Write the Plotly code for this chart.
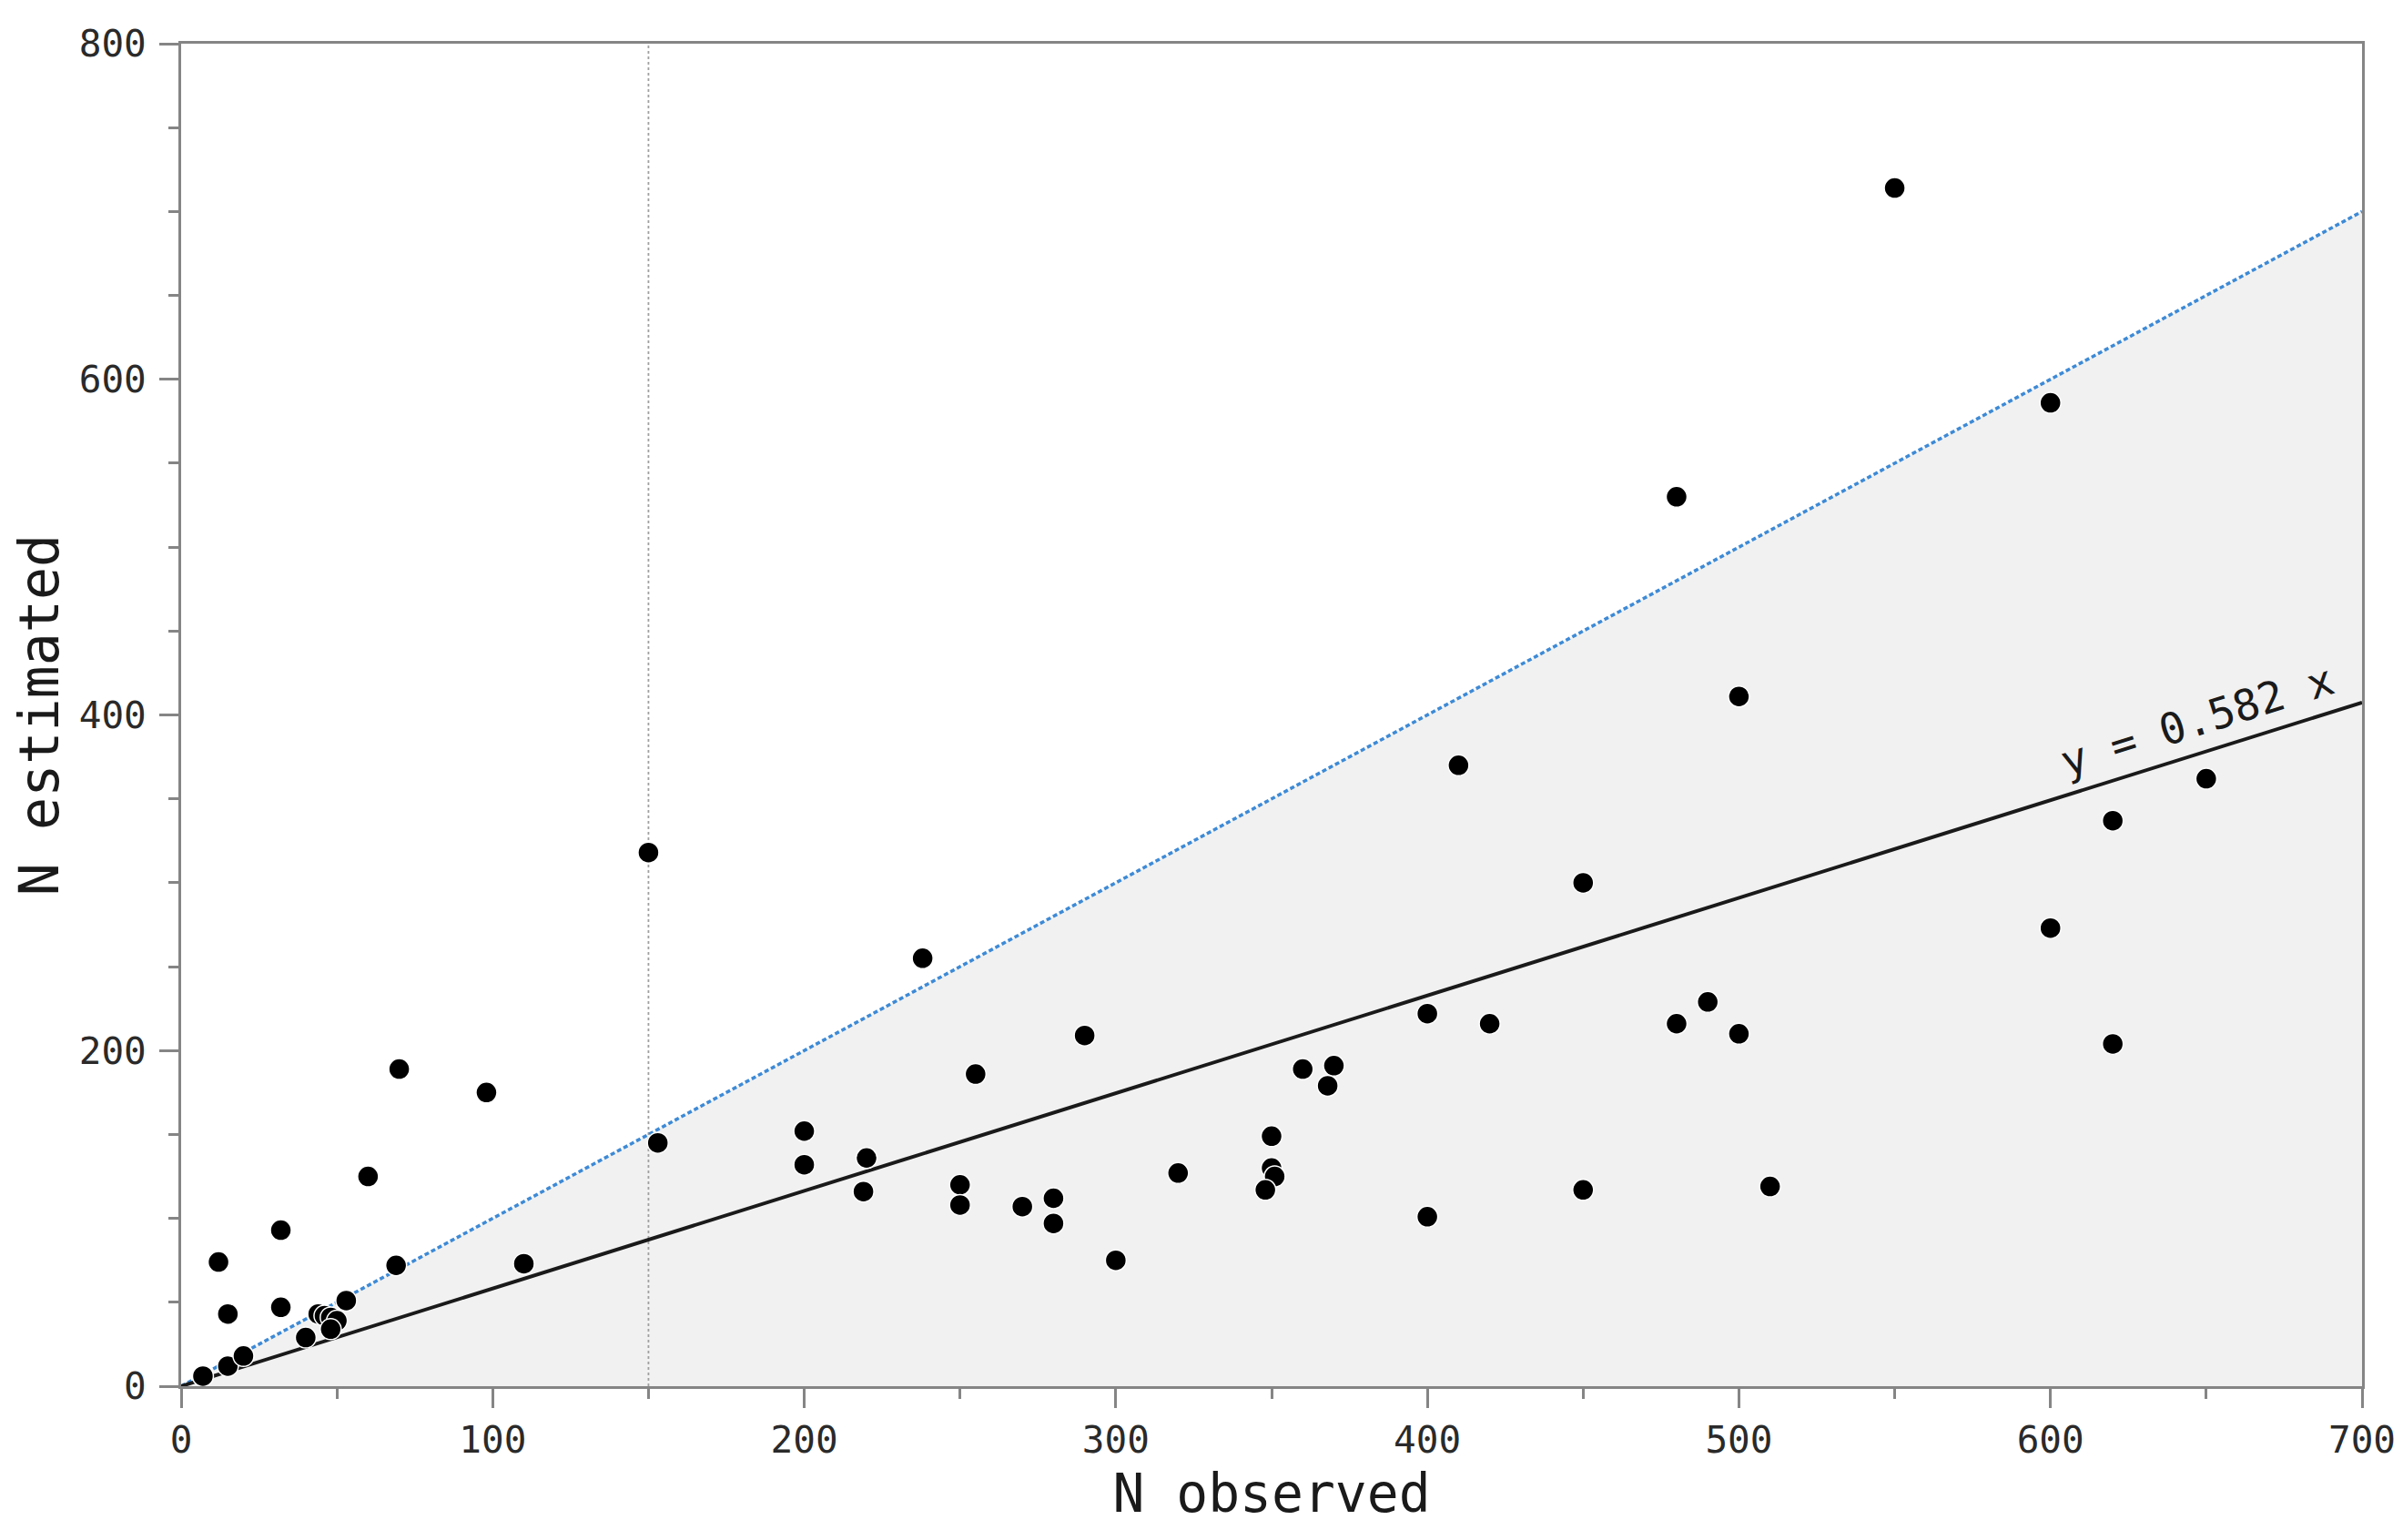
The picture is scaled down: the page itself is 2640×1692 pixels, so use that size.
import plotly.graph_objects as go

# Data
n_observed = [550, 600, 480, 500, 410, 450, 650, 620, 600, 620, 490, 480, 500, 420, 400,
              510, 450, 400, 370, 360, 368, 350, 350, 351, 348, 320, 300, 290, 280, 280,
              270, 255, 250, 250, 238, 220, 219, 200, 200, 153, 150, 110, 98, 70, 69,
              60, 32, 32, 12, 15, 15, 20, 7, 40, 44, 46, 48, 50, 48, 53]
n_estimated = [714, 586, 530, 411, 370, 300, 362, 337, 273, 204, 229, 216, 210, 216, 222,
               119, 117, 101, 191, 189, 179, 149, 130, 125, 117, 127, 75, 209, 112, 97,
               107, 186, 120, 108, 255, 136, 116, 152, 132, 145, 318, 73, 175, 189, 72,
               125, 93, 47, 74, 43, 12, 18, 6, 29, 43, 42, 41, 39, 34, 51]

slope = 0.582
x_max = 700
y_max = 800
threshold_x = 150
x_ticks = [0, 100, 200, 300, 400, 500, 600, 700]
y_ticks = [0, 200, 400, 600, 800]
eq_label = "y = 0.582 x"
x_title = "N observed"
y_title = "N estimated"

FONT = "DejaVu Sans Mono"
AXIS_COLOR = "#858585"

fig = go.Figure()

# shaded region under the 1:1 line
fig.add_trace(go.Scatter(
    x=[0, x_max, x_max, 0], y=[0, x_max, 0, 0],
    fill="toself", fillcolor="#f1f1f1", mode="none",
    hoverinfo="skip", showlegend=False))

# vertical threshold line
fig.add_trace(go.Scatter(
    x=[threshold_x, threshold_x], y=[0, y_max], mode="lines",
    line=dict(color="#a0a0a0", width=1.8, dash="dot"),
    hoverinfo="skip", showlegend=False))

# 1:1 line
fig.add_trace(go.Scatter(
    x=[0, x_max], y=[0, x_max], mode="lines",
    line=dict(color="#3d8ad6", width=3.5, dash="5px,3px"),
    hoverinfo="skip", showlegend=False))

# regression line
fig.add_trace(go.Scatter(
    x=[0, x_max], y=[0, slope * x_max], mode="lines",
    line=dict(color="#1a1a1a", width=4),
    hoverinfo="skip", showlegend=False))

# data points
fig.add_trace(go.Scatter(
    x=n_observed, y=n_estimated, mode="markers",
    marker=dict(color="black", size=23, line=dict(color="white", width=1.5)),
    showlegend=False))

fig.add_annotation(
    x=647, y=397, text=eq_label, showarrow=False, textangle=-17.4,
    font=dict(family=FONT, size=47, color="#1a1a1a"))

fig.update_layout(
    width=2640, height=1692,
    margin=dict(l=191, r=53, t=40, b=177),
    paper_bgcolor="white", plot_bgcolor="white",
    font=dict(family=FONT, color="#222222"),
    xaxis=dict(
        range=[0, x_max], tickvals=x_ticks, ticktext=[str(v) for v in x_ticks],
        ticks="outside", ticklen=21, tickwidth=2.5, tickcolor=AXIS_COLOR,
        minor=dict(dtick=50, tick0=0, ticks="outside", ticklen=11, tickwidth=2.5,
                   tickcolor=AXIS_COLOR, showgrid=False),
        showline=True, linecolor=AXIS_COLOR, linewidth=3, mirror=True,
        showgrid=False, zeroline=False,
        tickfont=dict(family=FONT, size=41, color="#2a2a2a"),
        title=dict(text=x_title, font=dict(family=FONT, size=58, color="#1a1a1a"),
                   standoff=16)),
    yaxis=dict(
        range=[0, y_max], tickvals=y_ticks, ticktext=[str(v) for v in y_ticks],
        ticks="outside", ticklen=21, tickwidth=2.5, tickcolor=AXIS_COLOR,
        minor=dict(dtick=50, tick0=0, ticks="outside", ticklen=11, tickwidth=2.5,
                   tickcolor=AXIS_COLOR, showgrid=False),
        showline=True, linecolor=AXIS_COLOR, linewidth=3, mirror=True,
        showgrid=False, zeroline=False, ticklabelstandoff=6,
        tickfont=dict(family=FONT, size=41, color="#2a2a2a"),
        title=dict(text=y_title, font=dict(family=FONT, size=60, color="#1a1a1a"),
                   standoff=18)),
)

fig.write_html("out.html")
